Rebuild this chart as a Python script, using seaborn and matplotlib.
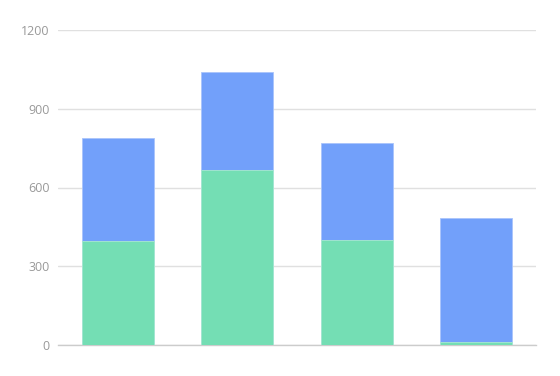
import matplotlib
matplotlib.use("Agg")
import matplotlib.pyplot as plt
import seaborn as sns
import pandas as pd

categories = ["A", "B", "C", "D"]
green_vals = [395, 665, 400, 10]
blue_vals = [395, 375, 370, 475]
y_ticks = [0, 300, 600, 900, 1200]

totals = [g + b for g, b in zip(green_vals, blue_vals)]
df = pd.DataFrame({"cat": categories, "green": green_vals, "total": totals})

sns.set_theme(style="white")
plt.rcParams["font.family"] = ["Open Sans", "DejaVu Sans"]

fig = plt.figure(figsize=(5.6, 3.76), dpi=100)
ax = fig.add_axes([58/560, 1-345/376, (536-58)/560, (345-30)/376])

sns.barplot(data=df, x="cat", y="total", color="#72A0FA", saturation=1,
            width=0.6, edgecolor="#A9C4FB", linewidth=0.6, ax=ax, zorder=3)
sns.barplot(data=df, x="cat", y="green", color="#74DEB4", saturation=1,
            width=0.6, edgecolor="#A8EAD0", linewidth=0.6, ax=ax, zorder=4)

ax.set_ylim(0, 1200)
ax.set_xlim(-0.5, 3.5)
ax.set_yticks(y_ticks)
ax.set_yticklabels([str(t) for t in y_ticks])
ax.set_xticks([])
ax.set_xlabel("")
ax.set_ylabel("")
ax.grid(axis="y", color="#E0E0E0", linewidth=1, zorder=0)
for s in ["top", "right", "left"]:
    ax.spines[s].set_visible(False)
ax.spines["bottom"].set_color("#CCCCCC")
ax.spines["bottom"].set_linewidth(1)
ax.tick_params(axis="y", length=0, pad=6, labelsize=9, labelcolor="#999999")

fig.savefig("out.png", dpi=100)
